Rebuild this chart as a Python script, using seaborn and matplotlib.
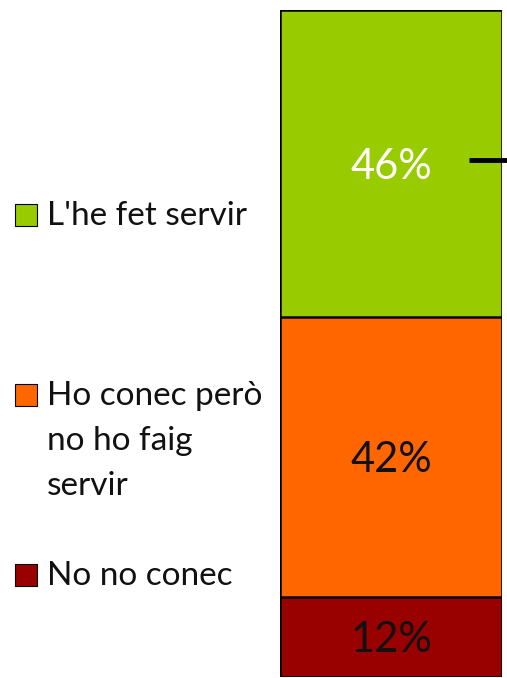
import numpy as np
import pandas as pd
import seaborn as sns
import matplotlib.pyplot as plt
from matplotlib.patches import Rectangle

sns.set_style("white")
plt.rcParams['font.family'] = ['Lato', 'DejaVu Sans']

# data, bottom to top
categories = ["No no conec", "Ho conec però\nno ho faig\nservir", "L'he fet servir"]
values = [12, 42, 46]
colors = ["#990000", "#FF6600", "#99CC00"]
label_colors = ["#111111", "#111111", "white"]

fig = plt.figure(figsize=(5.07, 6.78), dpi=100)
ax = fig.add_axes([0.5523, 0.002, 0.4378, 0.983])

tops = np.cumsum(values)
# draw from the tallest (top segment) downwards so the lower ones cover it
for i in range(len(values) - 1, -1, -1):
    df = pd.DataFrame({"x": ["a"], "v": [tops[i]]})
    sns.barplot(data=df, x="x", y="v", color=colors[i], saturation=1,
                edgecolor="black", linewidth=1.8, width=1.0, ax=ax)
    ax.text(0, tops[i] - values[i] / 2, f"{values[i]}%", ha="center",
            va="center_baseline", fontsize=30, color=label_colors[i])

ax.set_xlim(-0.5, 0.5)
ax.set_ylim(0, 100)
ax.axis("off")

# small tick stub on the right
ax.plot([0.85, 1.03], [0.775, 0.775], color="black", lw=3.5,
        transform=ax.transAxes, clip_on=False, solid_capstyle="butt")

# legend drawn by hand, top to bottom
leg_y = [575, 395, 215]  # pixel rows from top for each entry's first line
W, H = 507, 678
for i in range(len(categories)):
    y = 1 - leg_y[i] / H
    fig.patches.append(Rectangle((15 / W, y - 11 / H), 22 / W, 22 / H,
                                 facecolor=colors[i], edgecolor="black", lw=0.8,
                                 transform=fig.transFigure))
    fig.text(47 / W, y + 14 / H, categories[i], ha="left", va="top",
             fontsize=24, color="#111111", linespacing=1.62)

fig.savefig("out.png", dpi=100)
